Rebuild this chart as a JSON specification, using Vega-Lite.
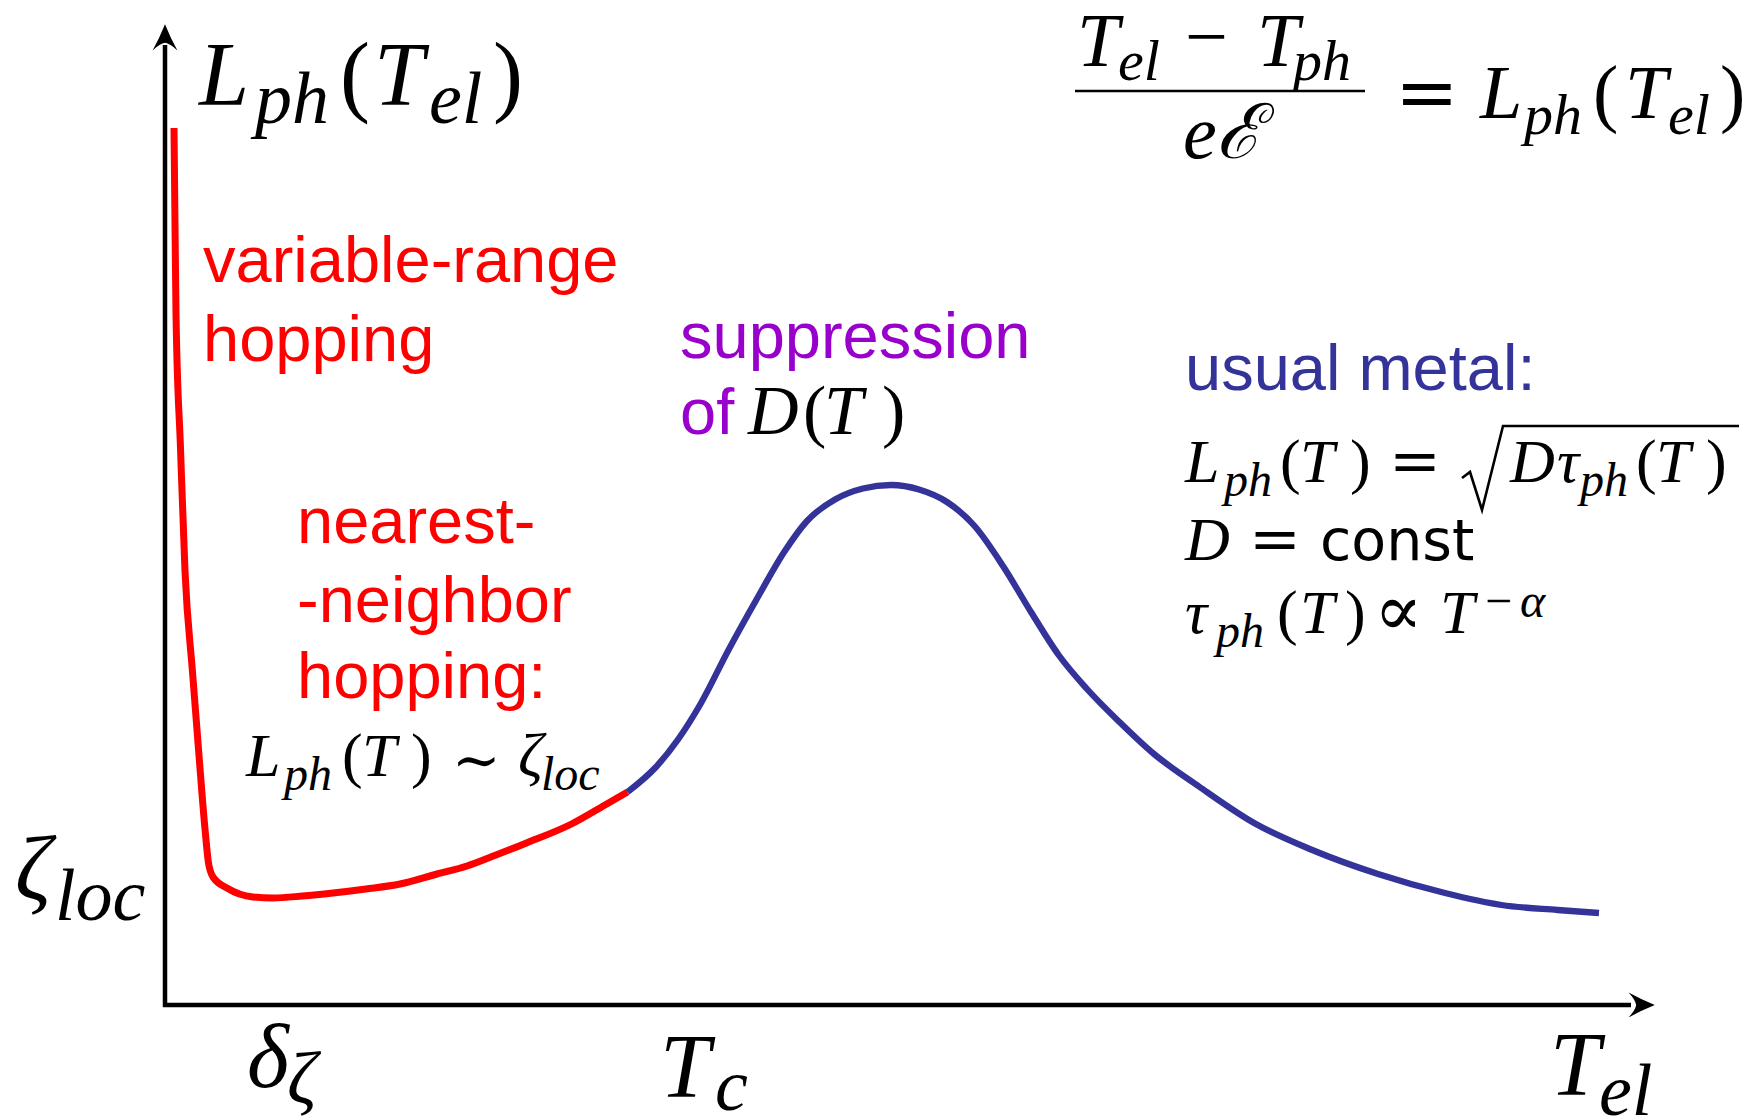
{
  "$schema": "https://vega.github.io/schema/vega-lite/v6.json",
  "width": 1757,
  "height": 1120,
  "autosize": {"type": "none"},
  "padding": 0,
  "background": "white",
  "config": {"view": {"stroke": null}},
  "datasets": {
    "curve": [
      {"x": 0.8, "y": 87.7, "regime": "hopping"},
      {"x": 0.9, "y": 78.1, "regime": "hopping"},
      {"x": 1.0, "y": 69.1, "regime": "hopping"},
      {"x": 1.45, "y": 55.7, "regime": "hopping"},
      {"x": 1.9, "y": 43.4, "regime": "hopping"},
      {"x": 2.65, "y": 33.3, "regime": "hopping"},
      {"x": 3.35, "y": 24.3, "regime": "hopping"},
      {"x": 3.9, "y": 17.6, "regime": "hopping"},
      {"x": 4.25, "y": 14.2, "regime": "hopping"},
      {"x": 4.7, "y": 12.8, "regime": "hopping"},
      {"x": 6.1, "y": 11.7, "regime": "hopping"},
      {"x": 8.7, "y": 10.8, "regime": "hopping"},
      {"x": 10.7, "y": 10.7, "regime": "hopping"},
      {"x": 13.65, "y": 10.9, "regime": "hopping"},
      {"x": 16.7, "y": 11.2, "regime": "hopping"},
      {"x": 20.0, "y": 11.6, "regime": "hopping"},
      {"x": 23.4, "y": 12.1, "regime": "hopping"},
      {"x": 27.1, "y": 13.1, "regime": "hopping"},
      {"x": 30.1, "y": 13.9, "regime": "hopping"},
      {"x": 33.0, "y": 15.0, "regime": "hopping"},
      {"x": 36.05, "y": 16.2, "regime": "hopping"},
      {"x": 40.55, "y": 18.1, "regime": "hopping"},
      {"x": 43.9, "y": 20.0, "regime": "hopping"},
      {"x": 46.15, "y": 21.3, "regime": "hopping"},
      {"x": 46.15, "y": 21.3, "regime": "metal"},
      {"x": 48.95, "y": 23.75, "regime": "metal"},
      {"x": 51.2, "y": 26.55, "regime": "metal"},
      {"x": 53.45, "y": 30.1, "regime": "metal"},
      {"x": 56.25, "y": 35.5, "regime": "metal"},
      {"x": 59.05, "y": 40.55, "regime": "metal"},
      {"x": 61.85, "y": 45.35, "regime": "metal"},
      {"x": 64.1, "y": 48.4, "regime": "metal"},
      {"x": 66.9, "y": 50.55, "regime": "metal"},
      {"x": 69.7, "y": 51.65, "regime": "metal"},
      {"x": 72.5, "y": 52.0, "regime": "metal"},
      {"x": 75.3, "y": 51.55, "regime": "metal"},
      {"x": 78.1, "y": 50.3, "regime": "metal"},
      {"x": 80.9, "y": 47.85, "regime": "metal"},
      {"x": 83.7, "y": 43.9, "regime": "metal"},
      {"x": 86.5, "y": 39.3, "regime": "metal"},
      {"x": 89.3, "y": 34.95, "regime": "metal"},
      {"x": 92.1, "y": 31.6, "regime": "metal"},
      {"x": 95.45, "y": 28.2, "regime": "metal"},
      {"x": 98.8, "y": 25.1, "regime": "metal"},
      {"x": 103.3, "y": 21.85, "regime": "metal"},
      {"x": 108.9, "y": 18.15, "regime": "metal"},
      {"x": 114.5, "y": 15.55, "regime": "metal"},
      {"x": 121.2, "y": 13.1, "regime": "metal"},
      {"x": 127.9, "y": 11.2, "regime": "metal"},
      {"x": 133.55, "y": 10.0, "regime": "metal"},
      {"x": 139.15, "y": 9.5, "regime": "metal"},
      {"x": 143.3, "y": 9.2, "regime": "metal"}
    ],
    "segments": [
      {"part": "axis", "x": -0.1, "y": -0.2, "x2": -0.1, "y2": 96.0},
      {"part": "axis", "x": -0.3, "y": 0, "x2": 146.5, "y2": 0},
      {"part": "fraction", "x": 90.9, "y": 91.4, "x2": 119.9, "y2": 91.4}
    ],
    "radical": [
      {"x": 129.6, "y": 52.7},
      {"x": 130.4, "y": 53.3},
      {"x": 131.6, "y": 49.5},
      {"x": 133.7, "y": 57.9},
      {"x": 157.3, "y": 57.9}
    ],
    "arrows": [
      {"axis": "vertical", "x": -0.1, "y": 96.7},
      {"axis": "horizontal", "x": 147.5, "y": 0}
    ],
    "labels": [
      {"text": "L", "kind": "var", "level": "display", "x": 3.3, "y": 90.0},
      {"text": "ph", "kind": "var", "level": "displaySub", "x": 8.9, "y": 88.2},
      {"text": "(", "kind": "paren", "level": "display", "x": 17.4, "y": 90.0},
      {"text": "T", "kind": "var", "level": "display", "x": 20.8, "y": 90.0},
      {"text": "el", "kind": "var", "level": "displaySub", "x": 26.3, "y": 88.2},
      {"text": ")", "kind": "paren", "level": "display", "x": 32.7, "y": 90.0},

      {"text": "T", "kind": "var", "level": "frac", "x": 91.1, "y": 93.9},
      {"text": "el", "kind": "var", "level": "fracSub", "x": 95.2, "y": 92.5},
      {"text": "−", "kind": "paren", "level": "frac", "x": 101.9, "y": 94.3},
      {"text": "T", "kind": "var", "level": "frac", "x": 109.1, "y": 93.9},
      {"text": "ph", "kind": "var", "level": "fracSub", "x": 112.7, "y": 92.5},
      {"text": "e", "kind": "var", "level": "frac", "x": 101.7, "y": 84.7},
      {"text": "ℰ", "kind": "var", "level": "frac", "x": 105.0, "y": 84.7},
      {"text": "=", "kind": "op", "level": "frac", "x": 122.9, "y": 88.7},
      {"text": "L", "kind": "var", "level": "frac", "x": 131.4, "y": 88.7},
      {"text": "ph", "kind": "var", "level": "fracSub", "x": 135.8, "y": 87.1},
      {"text": "(", "kind": "paren", "level": "frac", "x": 142.7, "y": 88.7},
      {"text": "T", "kind": "var", "level": "frac", "x": 145.9, "y": 88.7},
      {"text": "el", "kind": "var", "level": "fracSub", "x": 150.2, "y": 87.1},
      {"text": ")", "kind": "paren", "level": "frac", "x": 155.4, "y": 88.7},

      {"text": "usual metal:", "kind": "word", "tone": "metal", "level": "word", "x": 101.9, "y": 61.5},
      {"text": "L", "kind": "var", "level": "inline", "x": 101.9, "y": 52.3},
      {"text": "ph", "kind": "var", "level": "inlineSub", "x": 105.8, "y": 50.9},
      {"text": "(", "kind": "paren", "level": "inline", "x": 111.4, "y": 52.3},
      {"text": "T", "kind": "var", "level": "inline", "x": 113.4, "y": 52.3},
      {"text": ")", "kind": "paren", "level": "inline", "x": 118.4, "y": 52.3},
      {"text": "=", "kind": "op", "level": "inline", "x": 122.3, "y": 52.3},
      {"text": "D", "kind": "var", "level": "inline", "x": 134.4, "y": 52.3},
      {"text": "τ", "kind": "var", "level": "inline", "x": 139.1, "y": 52.3},
      {"text": "ph", "kind": "var", "level": "inlineSub", "x": 141.4, "y": 50.9},
      {"text": "(", "kind": "paren", "level": "inline", "x": 147.0, "y": 52.3},
      {"text": "T", "kind": "var", "level": "inline", "x": 149.0, "y": 52.3},
      {"text": ")", "kind": "paren", "level": "inline", "x": 154.0, "y": 52.3},
      {"text": "D", "kind": "var", "level": "inline", "x": 101.9, "y": 44.5},
      {"text": "=", "kind": "op", "level": "inline", "x": 108.3, "y": 44.5},
      {"text": "const", "kind": "mathword", "level": "mathword", "x": 115.4, "y": 44.5},
      {"text": "τ", "kind": "var", "level": "inline", "x": 101.9, "y": 37.2},
      {"text": "ph", "kind": "var", "level": "inlineSub", "x": 105.0, "y": 35.8},
      {"text": "(", "kind": "paren", "level": "inline", "x": 111.1, "y": 37.2},
      {"text": "T", "kind": "var", "level": "inline", "x": 113.4, "y": 37.2},
      {"text": ")", "kind": "paren", "level": "inline", "x": 117.9, "y": 37.2},
      {"text": "∝", "kind": "op", "level": "relationWide", "x": 120.8, "y": 37.0},
      {"text": "T", "kind": "var", "level": "inline", "x": 127.4, "y": 37.2},
      {"text": "−", "kind": "paren", "level": "inlineSub", "x": 131.9, "y": 38.8},
      {"text": "α", "kind": "var", "level": "inlineSub", "x": 135.4, "y": 38.8},

      {"text": "L", "kind": "var", "level": "inline", "x": 8.0, "y": 22.9},
      {"text": "ph", "kind": "var", "level": "inlineSub", "x": 11.8, "y": 21.5},
      {"text": "(", "kind": "paren", "level": "inline", "x": 17.6, "y": 22.9},
      {"text": "T", "kind": "var", "level": "inline", "x": 19.6, "y": 22.9},
      {"text": ")", "kind": "paren", "level": "inline", "x": 24.5, "y": 22.9},
      {"text": "∼", "kind": "op", "level": "relationNarrow", "x": 28.6, "y": 22.5},
      {"text": "ζ", "kind": "var", "level": "inline", "x": 35.2, "y": 22.9},
      {"text": "loc", "kind": "var", "level": "inlineSub", "x": 37.5, "y": 21.5},

      {"text": "D", "kind": "var", "level": "aside", "x": 58.2, "y": 57.1},
      {"text": "(", "kind": "paren", "level": "aside", "x": 63.7, "y": 57.1},
      {"text": "T", "kind": "var", "level": "aside", "x": 65.8, "y": 57.1},
      {"text": ")", "kind": "paren", "level": "aside", "x": 71.6, "y": 57.1},

      {"text": "variable-range", "kind": "word", "tone": "hopping", "level": "word", "x": 3.7, "y": 72.3},
      {"text": "hopping", "kind": "word", "tone": "hopping", "level": "word", "x": 3.7, "y": 64.4},
      {"text": "nearest-", "kind": "word", "tone": "hopping", "level": "word", "x": 13.1, "y": 46.2},
      {"text": "-neighbor", "kind": "word", "tone": "hopping", "level": "word", "x": 13.1, "y": 38.3},
      {"text": "hopping:", "kind": "word", "tone": "hopping", "level": "word", "x": 13.1, "y": 30.7},
      {"text": "suppression", "kind": "word", "tone": "suppression", "level": "word", "x": 51.4, "y": 64.7},
      {"text": "of", "kind": "word", "tone": "suppression", "level": "word", "x": 51.4, "y": 57.1},

      {"text": "ζ", "kind": "var", "level": "display", "x": -15.1, "y": 10.6},
      {"text": "loc", "kind": "var", "level": "displaySub", "x": -11.1, "y": 8.5},
      {"text": "δ", "kind": "var", "level": "display", "x": 8.1, "y": -8.2},
      {"text": "ζ", "kind": "var", "level": "displaySub", "x": 12.1, "y": -9.8},
      {"text": "T", "kind": "var", "level": "display", "x": 49.4, "y": -9.2},
      {"text": "c", "kind": "var", "level": "displaySub", "x": 54.9, "y": -10.5},
      {"text": "T", "kind": "var", "level": "display", "x": 138.4, "y": -9.0},
      {"text": "el", "kind": "var", "level": "displaySub", "x": 143.3, "y": -11.0}
    ]
  },
  "encoding": {
    "x": {"field": "x", "type": "quantitative", "scale": {"domain": [-16.6, 159.1], "nice": false, "zero": false}, "axis": null},
    "y": {"field": "y", "type": "quantitative", "scale": {"domain": [-11.5, 100.5], "nice": false, "zero": false}, "axis": null}
  },
  "layer": [
    {
      "data": {"name": "segments"},
      "transform": [{"filter": "datum.part === 'axis'"}],
      "mark": {"type": "rule", "color": "black", "strokeWidth": 4.5},
      "encoding": {"x2": {"field": "x2"}, "y2": {"field": "y2"}}
    },
    {
      "data": {"name": "segments"},
      "transform": [{"filter": "datum.part === 'fraction'"}],
      "mark": {"type": "rule", "color": "black", "strokeWidth": 2.7},
      "encoding": {"x2": {"field": "x2"}, "y2": {"field": "y2"}}
    },
    {
      "data": {"name": "arrows"},
      "transform": [{"filter": "datum.axis === 'vertical'"}],
      "mark": {"type": "point", "shape": "M0,-1 Q0.4,0 0.9,0.9 Q0.35,0.4 0,0.35 Q-0.35,0.4 -0.9,0.9 Q-0.4,0 0,-1 Z", "size": 760, "filled": true, "color": "black", "opacity": 1, "strokeWidth": 0}
    },
    {
      "data": {"name": "arrows"},
      "transform": [{"filter": "datum.axis === 'horizontal'"}],
      "mark": {"type": "point", "shape": "M0,-1 Q0.4,0 0.9,0.9 Q0.35,0.4 0,0.35 Q-0.35,0.4 -0.9,0.9 Q-0.4,0 0,-1 Z", "angle": 90, "size": 760, "filled": true, "color": "black", "opacity": 1, "strokeWidth": 0}
    },
    {
      "data": {"name": "curve"},
      "mark": {"type": "line", "interpolate": "monotone", "strokeJoin": "round", "strokeCap": "butt", "strokeWidth": {"expr": "datum.regime === 'hopping' ? 7 : 6.3"}},
      "encoding": {
        "color": {"field": "regime", "type": "nominal", "scale": {"domain": ["hopping", "suppression", "metal"], "range": ["#ff0000", "#9900cc", "#333399"]}, "legend": null}
      }
    },
    {
      "data": {"name": "radical"},
      "mark": {"type": "line", "color": "black", "strokeWidth": 2.6, "strokeJoin": "miter"},
      "encoding": {}
    },
    {
      "data": {"name": "labels"},
      "transform": [{"filter": "datum.kind === 'var'"}],
      "mark": {"type": "text", "font": "Liberation Serif", "fontStyle": "italic", "align": "left", "baseline": "alphabetic", "color": "black",
        "fontSize": {"expr": "datum.level === 'display' ? 90 : datum.level === 'displaySub' ? 74 : datum.level === 'frac' ? 76 : datum.level === 'fracSub' ? 58 : datum.level === 'inline' ? 62 : datum.level === 'inlineSub' ? 48 : datum.level === 'aside' ? 70 : datum.level === 'relationWide' ? 72 : datum.level === 'relationNarrow' ? 58 : 62"}},
      "encoding": {"text": {"field": "text"}}
    },
    {
      "data": {"name": "labels"},
      "transform": [{"filter": "datum.kind === 'paren'"}],
      "mark": {"type": "text", "font": "Liberation Serif", "align": "left", "baseline": "alphabetic", "color": "black",
        "fontSize": {"expr": "datum.level === 'display' ? 90 : datum.level === 'displaySub' ? 74 : datum.level === 'frac' ? 76 : datum.level === 'fracSub' ? 58 : datum.level === 'inline' ? 62 : datum.level === 'inlineSub' ? 48 : datum.level === 'aside' ? 70 : datum.level === 'relationWide' ? 72 : datum.level === 'relationNarrow' ? 58 : 62"}},
      "encoding": {"text": {"field": "text"}}
    },
    {
      "data": {"name": "labels"},
      "transform": [{"filter": "datum.kind === 'op'"}],
      "mark": {"type": "text", "font": "DejaVu Serif", "align": "left", "baseline": "alphabetic", "color": "black",
        "fontSize": {"expr": "datum.level === 'display' ? 90 : datum.level === 'displaySub' ? 74 : datum.level === 'frac' ? 76 : datum.level === 'fracSub' ? 58 : datum.level === 'inline' ? 62 : datum.level === 'inlineSub' ? 48 : datum.level === 'aside' ? 70 : datum.level === 'relationWide' ? 72 : datum.level === 'relationNarrow' ? 58 : 62"}},
      "encoding": {"text": {"field": "text"}}
    },
    {
      "data": {"name": "labels"},
      "transform": [{"filter": "datum.kind === 'mathword'"}],
      "mark": {"type": "text", "font": "DejaVu Sans", "align": "left", "baseline": "alphabetic", "color": "black", "fontSize": 57},
      "encoding": {"text": {"field": "text"}}
    },
    {
      "data": {"name": "labels"},
      "transform": [{"filter": "datum.kind === 'word'"}],
      "mark": {"type": "text", "font": "Liberation Sans", "align": "left", "baseline": "alphabetic", "fontSize": 65},
      "encoding": {
        "text": {"field": "text"},
        "color": {"field": "tone", "type": "nominal", "scale": {"domain": ["hopping", "suppression", "metal"], "range": ["#ff0000", "#9900cc", "#333399"]}, "legend": null}
      }
    }
  ]
}
